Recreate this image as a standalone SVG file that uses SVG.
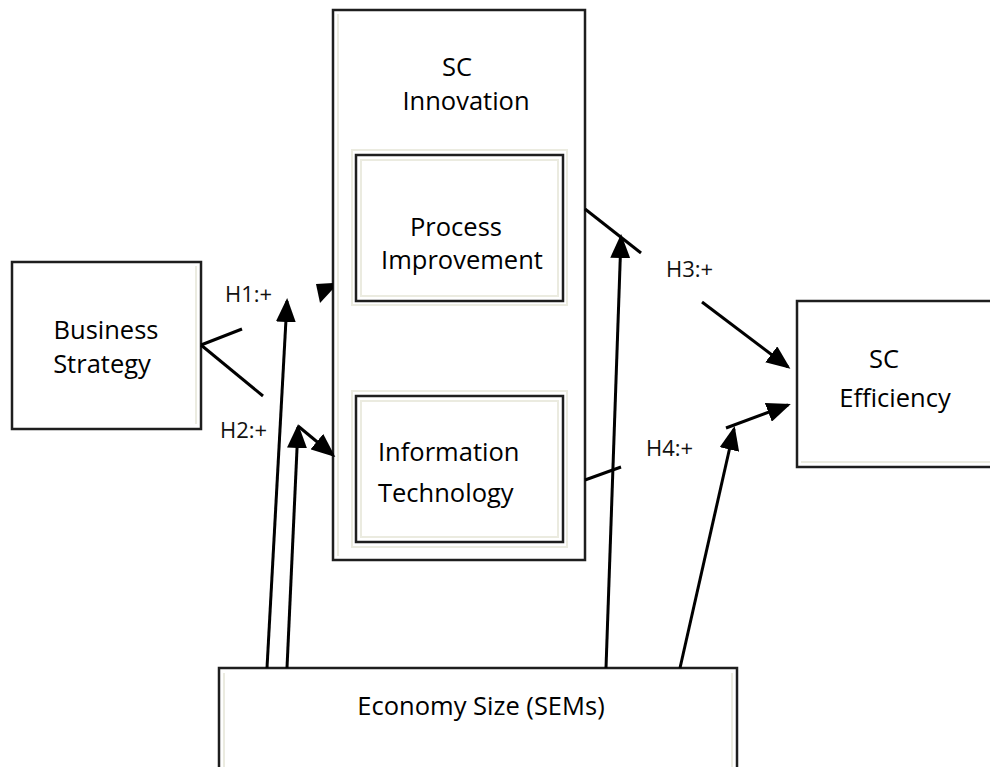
<svg xmlns="http://www.w3.org/2000/svg" width="990" height="767" viewBox="0 0 990 767">
  <style>
    .box { fill: #ffffff; stroke: #1e1e1e; stroke-width: 2.5; }
    .rim { fill: none; stroke: #ebebe0; stroke-width: 2; }
    .lbl { font-family: "Open Sans", "Noto Sans", sans-serif; font-size: 25.5px; fill: #000; }
    .hyp { font-family: "Open Sans", "Noto Sans", sans-serif; font-size: 22px; fill: #111; }
    .edge { fill: none; stroke: #000; stroke-width: 3; }
    .arrow { fill: none; stroke: #000; stroke-width: 3; marker-end: url(#head); }
  </style>
  <defs>
    <marker id="head" markerUnits="userSpaceOnUse" markerWidth="24" markerHeight="20" viewBox="0 0 24 20" refX="21" refY="10" orient="auto">
      <path d="M0,0 L24,10 L0,20 z" fill="#000"/>
    </marker>
  </defs>
  <rect width="990" height="767" fill="#ffffff"/>

  <!-- Business Strategy -->
  <g id="business-strategy">
    <rect class="box" x="12" y="262" width="189" height="167"/>
    <line class="rim" x1="196" y1="266" x2="196" y2="424"/>
    <text class="lbl" x="106" y="339" text-anchor="middle">Business</text>
    <text class="lbl" x="102" y="373" text-anchor="middle">Strategy</text>
  </g>

  <!-- SC Innovation container -->
  <g id="sc-innovation">
    <rect class="box" x="333" y="10" width="252" height="550"/>
    <line class="rim" x1="338" y1="14" x2="338" y2="556"/>
    <text class="lbl" x="457" y="76" text-anchor="middle">SC</text>
    <text class="lbl" x="466" y="110" text-anchor="middle">Innovation</text>
  </g>

  <!-- Process Improvement -->
  <g id="process-improvement">
    <rect class="rim" x="352" y="150" width="215" height="155"/>
    <rect class="box" x="356" y="155" width="207" height="146"/>
    <rect class="rim" x="361" y="160" width="197" height="136"/>
    <text class="lbl" x="456" y="236" text-anchor="middle">Process</text>
    <text class="lbl" x="462" y="269" text-anchor="middle">Improvement</text>
  </g>

  <!-- Information Technology -->
  <g id="information-technology">
    <rect class="rim" x="352" y="391" width="215" height="156"/>
    <rect class="box" x="356" y="396" width="207" height="146"/>
    <rect class="rim" x="361" y="401" width="197" height="136"/>
    <text class="lbl" x="378" y="461">Information</text>
    <text class="lbl" x="378" y="502">Technology</text>
  </g>

  <!-- SC Efficiency -->
  <g id="sc-efficiency">
    <rect class="box" x="797" y="301" width="196" height="166"/>
    <line class="rim" x1="801" y1="462" x2="990" y2="462"/>
    <text class="lbl" x="884" y="368" text-anchor="middle">SC</text>
    <text class="lbl" x="895" y="407" text-anchor="middle">Efficiency</text>
  </g>

  <!-- Economy Size (SEMs) -->
  <g id="economy-size">
    <rect class="box" x="219" y="668" width="518" height="110"/>
    <line class="rim" x1="224" y1="673" x2="224" y2="767"/>
    <line class="rim" x1="732" y1="673" x2="732" y2="767"/>
    <text class="lbl" x="481" y="715" text-anchor="middle">Economy Size (SEMs)</text>
  </g>

  <!-- Connectors -->
  <g id="connectors">
    <!-- Business Strategy fork -->
    <line class="edge" x1="201" y1="345" x2="242" y2="329"/>
    <line class="edge" x1="201" y1="345" x2="263" y2="396"/>
    <!-- H1 arrowhead at SC Innovation -->
    <polygon points="316,284 333,283 333,289 320,303" fill="#000"/>
    <!-- H2 into Information Technology side -->
    <line class="arrow" x1="298" y1="426" x2="333" y2="455"/>
    <!-- Moderation arrows from Economy Size -->
    <line class="arrow" x1="267" y1="668" x2="287" y2="301"/>
    <line class="arrow" x1="287" y1="668" x2="298" y2="427"/>
    <line class="arrow" x1="606" y1="668" x2="621" y2="237"/>
    <line class="arrow" x1="680" y1="668" x2="734" y2="429"/>
    <!-- H3 -->
    <line class="edge" x1="585" y1="209" x2="641" y2="253"/>
    <line class="arrow" x1="702" y1="302" x2="788" y2="367"/>
    <!-- H4 -->
    <line class="edge" x1="585" y1="480" x2="621" y2="467"/>
    <line class="arrow" x1="726" y1="428" x2="788" y2="405"/>
  </g>

  <!-- Hypothesis labels -->
  <g id="hypothesis-labels">
    <text class="hyp" x="225" y="302">H1:+</text>
    <text class="hyp" x="220" y="438">H2:+</text>
    <text class="hyp" x="666" y="277">H3:+</text>
    <text class="hyp" x="646" y="456">H4:+</text>
  </g>
</svg>
